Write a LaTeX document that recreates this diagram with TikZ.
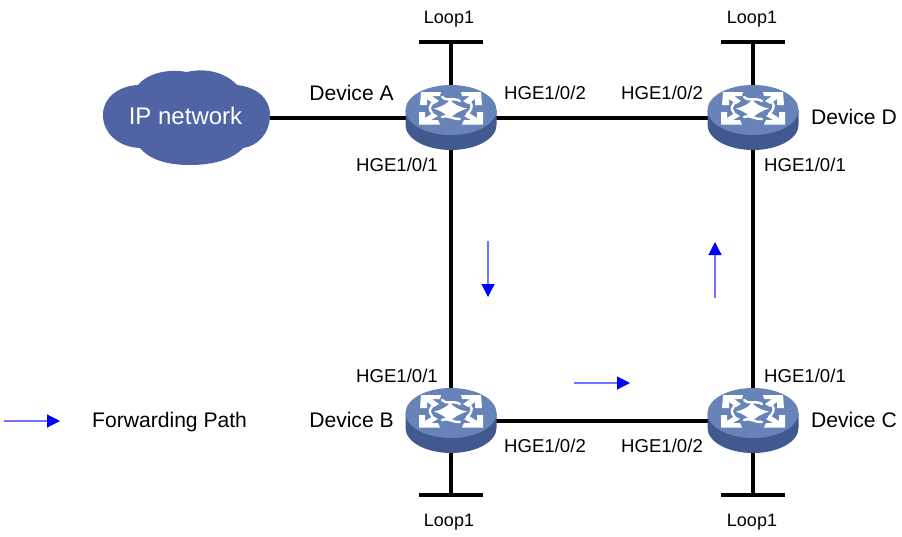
\documentclass[tikz,border=0pt]{standalone}
\usepackage{fontspec}
\setmainfont{Liberation Sans}
\usetikzlibrary{arrows.meta}
\definecolor{rtop}{HTML}{6783B8}
\definecolor{rside}{HTML}{41598F}
\definecolor{cloudc}{HTML}{4F63A5}
\tikzset{
  x=1pt,y=-1pt,
  link/.style={line width=3.6pt,black},
  lbl/.style={font=\fontsize{18.6}{20}\selectfont,text=black,inner sep=0pt},
  looplbl/.style={font=\fontsize{18}{20}\selectfont,text=black,inner sep=0pt},
  biglbl/.style={font=\fontsize{21.1}{23}\selectfont,text=black,inner sep=0pt},
  dev/.style={inner sep=0pt,minimum width=90pt,minimum height=60pt,shape=rectangle},
  flow/.style={blue!55!white,line width=1.2pt,-{Triangle[length=13pt,width=13pt,color=blue]}},
  anchorpt/.style={inner sep=0pt,minimum size=0pt},
  whiteshape/.style={fill=white,draw=none},
  strand/.style={white,line width=2.4pt,line cap=round},
}
\newcommand{\routericon}[1]{%
\begin{scope}[shift={(#1)}]
  \fill[rside] (-45.5,-8) -- (-45.5,7) arc[start angle=180,end angle=360,x radius=45.5,y radius=-25] -- (45.5,-8) -- cycle;
  \fill[rtop] (0,-8) ellipse[x radius=45.5,y radius=25];
  % corner arrows
  \fill[whiteshape] (-30,-26) -- (-10,-26) -- (-11,-22) -- (-19,-22) -- (-12,-17) -- (-17,-14) -- (-24,-19) -- (-24,-13) -- (-31,-13) -- cycle;
  \fill[whiteshape] (30,-26) -- (10,-26) -- (11,-22) -- (19,-22) -- (12,-17) -- (17,-14) -- (24,-19) -- (24,-13) -- (31,-13) -- cycle;
  \fill[whiteshape] (-32,6.5) -- (-11,6.5) -- (-13,2) -- (-20,2) -- (-13,-2) -- (-18,-5) -- (-26,0) -- (-26,-6) -- (-32,-6) -- cycle;
  \fill[whiteshape] (32,6.5) -- (11,6.5) -- (13,2) -- (20,2) -- (13,-2) -- (18,-5) -- (26,0) -- (26,-6) -- (32,-6) -- cycle;
  % swirl strands
  \draw[strand] (-9,-21) .. controls (-5,-16) and (2,-21) .. (9,-17);
  \draw[strand] (-9,-1) .. controls (-4,-4) and (3,2) .. (9,1);
  \draw[strand] (-15,-18) .. controls (-23,-12) and (-22,-9) .. (-19,-5);
  \draw[strand] (19,-16) .. controls (23,-12) and (19,-6) .. (16,-4);
  % central star
  \fill[whiteshape] (-1,-18.5) .. controls (2,-14) and (8,-11) .. (16,-9.5) .. controls (8,-7) and (3,-4) .. (-1,0.5) .. controls (-5,-4) and (-10,-7) .. (-17,-9.5) .. controls (-10,-11) and (-4,-14) .. (-1,-18.5) -- cycle;
\end{scope}}
\begin{document}
\begin{tikzpicture}
\useasboundingbox (0,0) rectangle (902,536);
% named positions
\node[dev] (A) at (451,118) {};
\node[dev] (B) at (451,421) {};
\node[dev] (C) at (753,421) {};
\node[dev] (D) at (753,118) {};
\coordinate (LA) at (451,42);
\coordinate (LB) at (451,495);
\coordinate (LC) at (753,495);
\coordinate (LD) at (753,42);
\coordinate (LAl) at (419,42); \coordinate (LAr) at (483,42);
\coordinate (LBl) at (419,495); \coordinate (LBr) at (483,495);
\coordinate (LCl) at (721,495); \coordinate (LCr) at (785,495);
\coordinate (LDl) at (721,42); \coordinate (LDr) at (785,42);
% cloud
\node[anchorpt] (cloud) at (186,117) {};
\fill[cloudc] (103,115)
  .. controls (103,98) and (118,86) .. (138,85)
  .. controls (146,75) and (165,68) .. (187,72)
  .. controls (208,67) and (227,74) .. (237,85)
  .. controls (256,87) and (270,98) .. (270,115)
  .. controls (270,133) and (258,146) .. (243,148)
  .. controls (232,160) and (212,165) .. (190,165)
  .. controls (168,165) and (150,160) .. (140,148)
  .. controls (118,147) and (103,133) .. (103,115) -- cycle;
\node[biglbl,text=white,font=\fontsize{24}{26}\selectfont] at (185.5,116) {IP network};
\coordinate (cloudE) at (270,118);
% links
\draw[link] (cloudE) -- (A.center);
\draw[link] (A.center) -- (D.center);
\draw[link] (A.center) -- (B.center);
\draw[link] (B.center) -- (C.center);
\draw[link] (D.center) -- (C.center);
\draw[link] (A.center) -- (LA);
\draw[link] (D.center) -- (LD);
\draw[link] (B.center) -- (LB);
\draw[link] (C.center) -- (LC);
\draw[link] (LAl) -- (LAr);
\draw[link] (LBl) -- (LBr);
\draw[link] (LCl) -- (LCr);
\draw[link] (LDl) -- (LDr);
\routericon{A.center}
\routericon{B.center}
\routericon{C.center}
\routericon{D.center}
% labels
\node[looplbl] at (449,19) {Loop1};
\node[looplbl] at (752,19) {Loop1};
\node[looplbl] at (449,522) {Loop1};
\node[looplbl] at (752,522) {Loop1};
\node[biglbl] at (351.5,93) {Device A};
\node[biglbl] at (854,117) {Device D};
\node[biglbl] at (351.5,420) {Device B};
\node[biglbl] at (854,420) {Device C};
\node[lbl] at (545,92.5) {HGE1/0/2};
\node[lbl] at (662,92.5) {HGE1/0/2};
\node[lbl] at (397,165) {HGE1/0/1};
\node[lbl] at (805,165) {HGE1/0/1};
\node[lbl] at (397,375.5) {HGE1/0/1};
\node[lbl] at (805,375.5) {HGE1/0/1};
\node[lbl] at (545,446) {HGE1/0/2};
\node[lbl] at (662,446) {HGE1/0/2};
\node[biglbl,anchor=west] at (92,422) {Forwarding Path};
% arrows
\coordinate (f1s) at (488,241); \coordinate (f1e) at (488,297);
\coordinate (f2s) at (715,298); \coordinate (f2e) at (715,242);
\coordinate (f3s) at (574,383); \coordinate (f3e) at (630,383);
\coordinate (f4s) at (4,421); \coordinate (f4e) at (60,421);
\draw[flow] (f1s) -- (f1e);
\draw[flow] (f2s) -- (f2e);
\draw[flow] (f3s) -- (f3e);
\draw[flow] (f4s) -- (f4e);
\end{tikzpicture}
\end{document}
